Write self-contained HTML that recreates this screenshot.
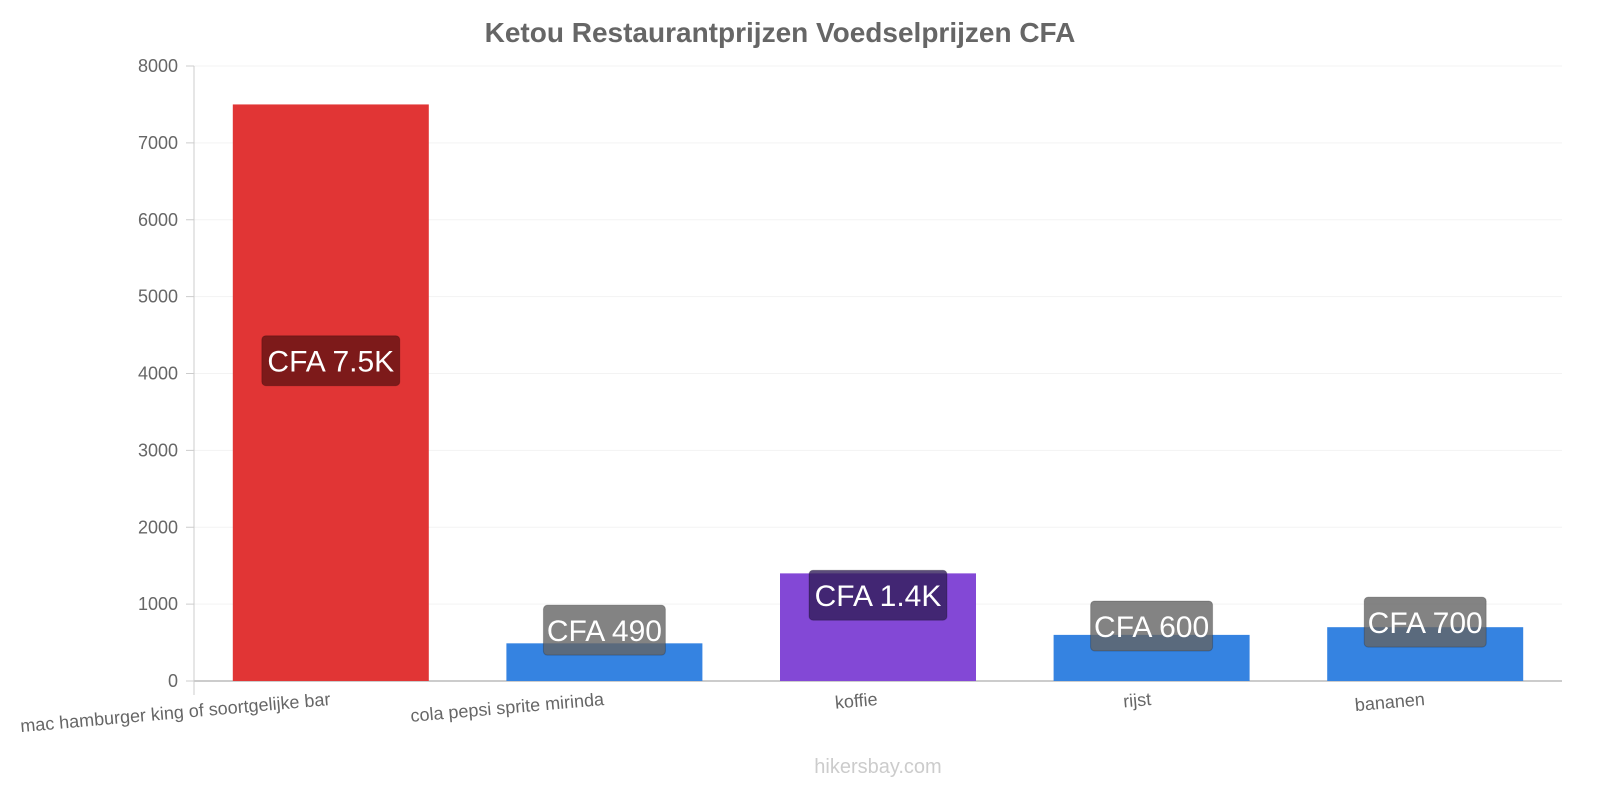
<!DOCTYPE html>
<html><head><meta charset="utf-8"><style>
body{margin:0;background:#fff;}
svg text{font-family:"Liberation Sans",sans-serif;}
</style></head><body>
<svg width="1600" height="800" id="c">
<text x="780" y="42" text-anchor="middle" font-size="28" font-weight="bold" fill="#666">Ketou Restaurantprijzen Voedselprijzen CFA</text>
<text x="878" y="773" text-anchor="middle" font-size="20" fill="#ccc">hikersbay.com</text>
</svg>
<script>
const categories=["mac hamburger king of soortgelijke bar","cola pepsi sprite mirinda","koffie","rijst","bananen"];
const values=[7500,490,1400,600,700];
const valueLabels=["CFA 7.5K","CFA 490","CFA 1.4K","CFA 600","CFA 700"];
const yTicks=[0,1000,2000,3000,4000,5000,6000,7000,8000];
const colors=["#e13535","#3583e1","#8348d6","#3583e1","#3583e1"];
const labelBg=["rgba(100,20,20,0.8)","rgba(100,100,100,0.8)","rgba(50,30,90,0.8)","rgba(100,100,100,0.8)","rgba(100,100,100,0.8)"];
const NS="http://www.w3.org/2000/svg",svg=document.getElementById('c');
const x0=194,x1=1562,y0=681,yTop=66,yMax=8000;
const y=v=>y0-(v/yMax)*(y0-yTop);
const band=(x1-x0)/categories.length;
const bx=i=>x0+band*i+band/2;
function mk(t,a){const e=document.createElementNS(NS,t);for(const k in a)e.setAttribute(k,a[k]);svg.appendChild(e);return e;}
yTicks.forEach(t=>{
 const g=mk('line',{x1:x0,x2:x1,y1:y(t),y2:y(t),stroke:t?'#f3f3f3':'#ccc','stroke-width':t?1:2});
 
 
 const tk=mk('line',{x1:x0-8,x2:x0,y1:y(t),y2:y(t),stroke:'#ccc'});
 
 
 const tx=mk('text',{x:x0-16,y:y(t)+6,'text-anchor':'end','font-size':18,fill:'#666'});tx.textContent=t;
 
 
});
const ax=mk('line',{x1:x0,x2:x0,y1:yTop,y2:y0+14,stroke:'#ccc'});


categories.forEach((c,i)=>{
 const w=196,cx=bx(i);
 const r=mk('rect',{x:cx-w/2,y:y(values[i]),width:w,height:y0-y(values[i]),fill:colors[i]});
 
 
 const ly=(y(values[i])+y0)/2-32;
 const lw=valueLabels[i].length*16+10;
 const lb=mk('rect',{x:cx-lw/2,y:ly-25,width:lw,height:50,rx:4,fill:labelBg[i],stroke:'rgba(0,0,0,0.2)'});
 
 
 const lt=mk('text',{x:cx,y:ly+11,'text-anchor':'middle','font-size':30,fill:'#fff'});lt.textContent=valueLabels[i];
 
 
 const xt=mk('text',{x:cx,y:y0+24,'text-anchor':'end','font-size':18,fill:'#666',transform:`rotate(-5 ${cx} ${y0+24})`});xt.textContent=c;
 
 
});
</script>
</body></html>
